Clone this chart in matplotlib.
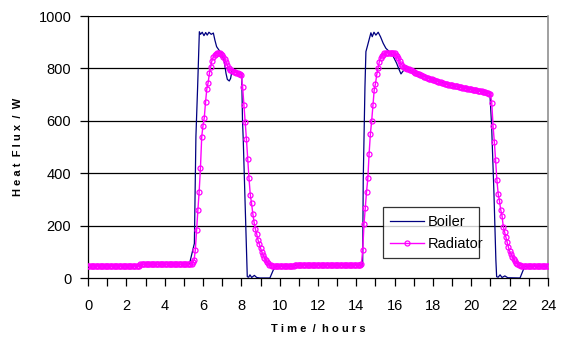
import numpy as np
import matplotlib
matplotlib.use("Agg")
import matplotlib.pyplot as plt
from matplotlib.ticker import MultipleLocator

plt.rcParams['font.family'] = ['Liberation Sans', 'DejaVu Sans']

# Radiator: samples every 4 minutes (361 samples over 24 h)
radiator_step_h = 4 / 60
radiator = ([47] * 41 + [52] * 39 +
            [53, 55, 60, 68, 107, 185, 260, 330, 420, 539, 582, 612, 672, 722, 745, 781,
             806, 830, 844, 851, 856, 858, 859, 858, 856, 850, 844, 835, 824, 812, 800, 795,
             792, 790, 788, 786, 784, 782, 780, 778, 776, 730, 660, 595, 530, 455, 380, 318,
             285, 245, 212, 187, 168, 146, 130, 115, 99, 88, 78, 70, 62, 56, 51, 48] +
            [46] * 18 + [50] * 52 +
            [55, 107, 205, 268, 330, 380, 475, 550, 600, 660, 718, 742, 777, 800, 826, 840,
             848, 853, 857, 859, 860, 860, 860, 860, 860, 859, 858, 853, 846, 838, 827, 817,
             810, 806, 803, 801, 799, 797, 795, 792, 790, 787, 784, 781, 779, 777, 775, 773,
             771, 769, 767, 765, 763, 761, 759, 758, 756, 754, 753, 751, 750, 748, 747, 745,
             744, 742, 741, 740, 738, 737, 736, 735, 734, 733, 732, 731, 730, 729, 728, 727,
             726, 725, 724, 723, 722, 721, 720, 719, 718, 717, 716, 715, 714, 713, 712, 711,
             710, 709, 707, 706, 704, 702, 668, 580, 520, 450, 375, 322, 295, 260, 238, 196,
             176, 157, 137, 118, 102, 92, 82, 74, 66, 59, 54, 50, 48] +
            [46] * 22)
radiator_time = np.arange(len(radiator)) * radiator_step_h

boiler_time = [0, 2.7, 2.75, 5.3, 5.32, 5.55, 5.63, 5.72, 5.81, 5.87, 5.96, 6.05, 6.14, 6.22,
               6.31, 6.43, 6.54, 6.62, 6.71, 6.85, 6.97, 7.11, 7.2, 7.27, 7.37, 7.44, 7.53,
               7.67, 7.84, 8.02, 8.06, 8.1, 8.31, 8.38, 8.45, 8.54, 8.68, 8.8, 8.97, 9.49,
               9.67, 9.84, 10.8, 10.83, 14.33, 14.36, 14.45, 14.5, 14.57, 14.66, 14.76, 14.83,
               14.92, 15.02, 15.14, 15.26, 15.4, 15.54, 15.72, 15.93, 16.1, 16.24, 16.33,
               16.45, 16.62, 17.14, 18.0, 18.88, 19.75, 20.62, 20.97, 21.06, 21.18, 21.28,
               21.32, 21.4, 21.5, 21.6, 21.75, 21.9, 22.54, 22.71, 22.8, 22.9, 24]
boiler = [47, 47, 52, 52, 62, 132, 539, 730, 940, 930, 938, 925, 937, 927,
          938, 930, 935, 908, 883, 868, 858, 826, 781, 758, 752, 762, 797,
          794, 784, 775, 603, 527, 5, 3, 12, 2, 10, 2, 0, 0,
          31, 46, 46, 50, 50, 374, 730, 864, 883, 908, 936, 921,
          938, 927, 938, 921, 896, 877, 864, 845, 820, 794, 779,
          791, 800, 781, 756, 737, 724, 711, 702, 578, 323, 69,
          5, 3, 12, 2, 8, 1, 0, 31, 43, 46, 46]

x_ticks = list(range(0, 25, 2))
y_ticks = list(range(0, 1001, 200))

fig = plt.figure(figsize=(5.63, 3.38), dpi=100)
ax = fig.add_axes([88 / 563, 1 - 278 / 338, 460 / 563, 262 / 338])

for y in y_ticks[1:]:
    ax.axhline(y, color='black', lw=0.9, zorder=1)

ax.plot(boiler_time, boiler, color='#000080', lw=0.9, label='Boiler', zorder=3)
ax.plot(radiator_time, radiator, color='#FF00FF', lw=1.0, marker='o', markersize=3.6,
        markerfacecolor='none', markeredgecolor='#FF00FF', markeredgewidth=0.9,
        label='Radiator', zorder=4)

ax.set_xlim(0, 24)
ax.set_ylim(0, 1000)
ax.set_xticks(x_ticks)
ax.xaxis.set_minor_locator(MultipleLocator(1))
ax.set_yticks(y_ticks)
ax.tick_params(axis='both', which='both', direction='out', length=6, width=0.9,
               labelsize=10.5, colors='black', pad=6)
ax.tick_params(axis='x', pad=9)

ax.spines['top'].set_visible(False)
ax.spines['right'].set_color('#909090')
ax.spines['right'].set_linewidth(1.2)
ax.spines['left'].set_linewidth(0.9)
ax.spines['bottom'].set_linewidth(0.9)

ax.set_xlabel('T i m e  /  h o u r s', fontsize=8, fontweight='bold', labelpad=8)
ax.set_ylabel('H e a t  F l u x  /  W', fontsize=8, fontweight='bold', labelpad=11)

leg = ax.legend(loc='lower left', bbox_to_anchor=(0.641, 0.076, 0.21, 0.195), mode='expand',
                frameon=True, fancybox=False, fontsize=10.5, handlelength=2.3,
                borderaxespad=0, handletextpad=0.25, labelspacing=0.55, borderpad=0.5)
leg.get_frame().set_edgecolor('black')
leg.get_frame().set_linewidth(0.9)
leg.set_zorder(10)

fig.savefig('out.png', dpi=100)
